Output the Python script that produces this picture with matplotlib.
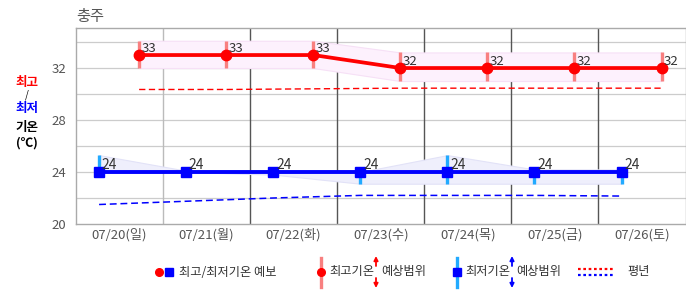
import numpy as np
import matplotlib
matplotlib.use('Agg')
import matplotlib.pyplot as plt

plt.rcParams['font.family'] = ['Noto Sans CJK KR', 'DejaVu Sans']

# ---------------------------------------------------------------------------
# Data
# ---------------------------------------------------------------------------
days = ['07/20(일)', '07/21(월)', '07/22(화)', '07/23(수)',
        '07/24(목)', '07/25(금)', '07/26(토)']

tmax = [33, 33, 33, 32, 32, 32, 32]
tmax_lo = [32.0, 32.0, 32.0, 31.0, 31.0, 31.0, 31.0]
tmax_hi = [34.1, 34.1, 34.1, 33.2, 33.2, 33.2, 33.2]

tmin = [24, 24, 24, 24, 24, 24, 24]
tmin_lo = [24.0, 24.0, 23.8, 23.1, 23.1, 23.1, 23.1]
tmin_hi = [25.3, 24.1, 24.1, 24.0, 25.3, 24.2, 24.2]

normal_max = [30.35, 30.35, 30.4, 30.45, 30.45, 30.45, 30.45]
normal_min = [21.5, 21.75, 22.0, 22.2, 22.2, 22.2, 22.15]

yticks = [20, 24, 28, 32]

# ---------------------------------------------------------------------------
# Colours
# ---------------------------------------------------------------------------
RED = '#ff0000'
BLUE = '#0000ff'
RED_BAR = '#f88080'
BLUE_BAR = '#22aaff'
TXT = '#555555'
VAL = '#333333'

W, H = 686, 295
fig = plt.figure(figsize=(W / 100, H / 100), dpi=100)
ax = fig.add_axes([76 / W, 71 / H, 609.5 / W, 196 / H])

x = np.arange(len(days))
xr = x + 0.225   # max temperature points sit right of centre
xb = x - 0.235   # min temperature points sit left of centre

# range bands
ax.fill_between(xr, tmax_lo, tmax_hi, facecolor='#fdf1fd', edgecolor='#f6e0f6',
                lw=0.8, zorder=1)
ax.fill_between(xb, tmin_lo, tmin_hi, facecolor='#efeffc', edgecolor='#e2e2f7',
                lw=0.8, zorder=1)

# normals
ax.plot(xr, normal_max, color=RED, lw=1.0, ls=(0, (4.5, 2.5)), zorder=2)
ax.plot(xb, normal_min, color=BLUE, lw=1.1, ls=(0, (4.5, 2.5)), zorder=2)

# range bars
ax.vlines(xr, tmax_lo, tmax_hi, colors=RED_BAR, lw=2.4, zorder=3)
ax.vlines(xb, tmin_lo, tmin_hi, colors=BLUE_BAR, lw=2.4, zorder=3)

# forecasts
ax.plot(xr, tmax, color=RED, lw=2.7, marker='o', ms=7.5, zorder=4)
ax.plot(xb, tmin, color=BLUE, lw=2.8, marker='s', ms=7.5, zorder=4)

for xi, v in zip(xr, tmax):
    ax.annotate(f'{v}', (xi, v), xytext=(1.5, 2.2), textcoords='offset points',
                ha='left', va='baseline', fontsize=9.5, color=VAL, zorder=5)
for xi, v in zip(xb, tmin):
    ax.annotate(f'{v}', (xi, v), xytext=(2, 2.2), textcoords='offset points',
                ha='left', va='baseline', fontsize=10, color=VAL, zorder=5)

# axes styling
ax.set_xlim(-0.5, len(days) - 0.5)
ax.set_ylim(20, 35.08)
ax.set_yticks(yticks)
ax.set_yticklabels([str(t) for t in yticks])
ax.set_xticks(x)
ax.set_xticklabels(days)
ax.tick_params(length=0, labelsize=9.5, colors=TXT)
ax.tick_params(axis='y', pad=7)
ax.tick_params(axis='x', pad=3)

for yy in range(22, 36, 2):
    ax.axhline(yy, color='#cccccc', lw=0.9, zorder=0)
for i, xx in enumerate(x[:-1] + 0.5):
    ax.axvline(xx, color='#bbbbbb' if i == 0 else '#555555', lw=1.0, zorder=0)
for s in ax.spines.values():
    s.set_color('#aaaaaa')
    s.set_linewidth(1.0)

# title & y label
fig.text(76 / W, 1 - 17 / H, '충주', fontsize=11, color=TXT, ha='left', va='center')
fig.text(27 / W, 1 - 82 / H, '최고', fontsize=9, color=RED, weight='bold', ha='center', va='center')
fig.text(27 / W, 1 - 95 / H, '/', fontsize=7, color='black', ha='center', va='center')
fig.text(27 / W, 1 - 109 / H, '최저', fontsize=9, color=BLUE, weight='bold', ha='center', va='center')
fig.text(27 / W, 1 - 127 / H, '기온', fontsize=9, color='black', weight='bold', ha='center', va='center')
fig.text(27 / W, 1 - 143 / H, '(℃)', fontsize=9, color='black', weight='bold', ha='center', va='center')

# ---------------------------------------------------------------------------
# Legend (pixel coordinates overlay)
# ---------------------------------------------------------------------------
lg = fig.add_axes([0, 0, 1, 1], zorder=10)
lg.set_xlim(0, W)
lg.set_ylim(H, 0)
lg.axis('off')
ly = 272
fs = 8.8

lg.plot([159], [ly], marker='o', color=RED, ms=5.5, ls='none')
lg.plot([169], [ly], marker='s', color=BLUE, ms=5.5, ls='none')
lg.text(179, ly, '최고/최저기온 예보', fontsize=fs, color=VAL, va='center')

lg.plot([321, 321], [258, 287], color=RED_BAR, lw=2.4)
lg.plot([321], [ly], marker='o', color=RED, ms=5.5)
lg.text(329, ly, '최고기온', fontsize=fs, color=VAL, va='center')
lg.text(381, ly, '예상범위', fontsize=fs, color=VAL, va='center')

lg.plot([457, 457], [258, 287], color=BLUE_BAR, lw=2.4)
lg.plot([457], [ly], marker='s', color=BLUE, ms=5.5)
lg.text(465, ly, '최저기온', fontsize=fs, color=VAL, va='center')
lg.text(516, ly, '예상범위', fontsize=fs, color=VAL, va='center')

for ax_x, col in ((376, RED), (512, BLUE)):
    lg.annotate('', xy=(ax_x, 256), xytext=(ax_x, 266),
                arrowprops=dict(arrowstyle='-|>', color=col, lw=1.3, mutation_scale=6,
                                shrinkA=0, shrinkB=0))
    lg.annotate('', xy=(ax_x, 288), xytext=(ax_x, 278),
                arrowprops=dict(arrowstyle='-|>', color=col, lw=1.3, mutation_scale=6,
                                shrinkA=0, shrinkB=0))

lg.plot([578, 615], [269, 269], color=RED, lw=1.6, ls=(0, (1.2, 1.2)))
lg.plot([578, 615], [274.5, 274.5], color=BLUE, lw=1.6, ls=(0, (1.2, 1.2)))
lg.text(627, ly, '평년', fontsize=fs, color=VAL, va='center')

fig.savefig('out.png', dpi=100)
